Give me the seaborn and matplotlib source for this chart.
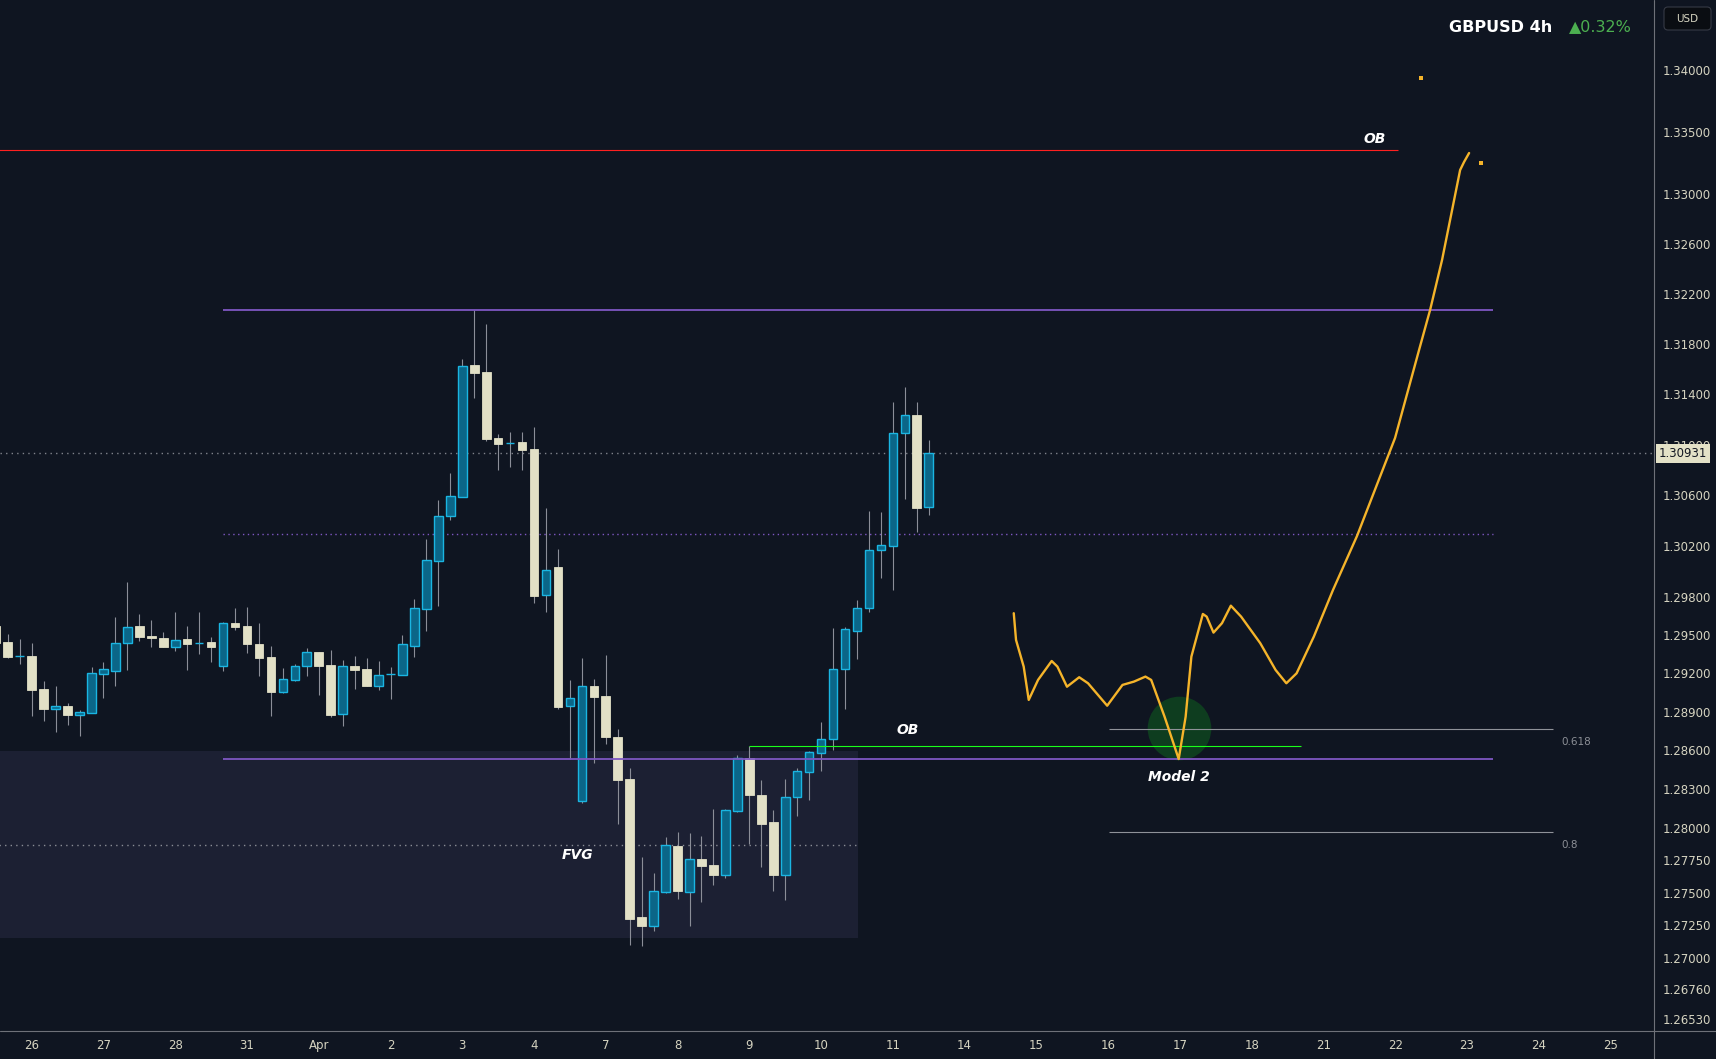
import numpy as np
import pandas as pd
import matplotlib
matplotlib.use("Agg")
import matplotlib.pyplot as plt
from matplotlib.ticker import FixedLocator, NullLocator, FuncFormatter
from matplotlib.patches import FancyBboxPatch
from matplotlib.lines import Line2D
from matplotlib.transforms import IdentityTransform
import seaborn as sns

# GBPUSD 4h candles (bar -3 is the one cut off at the left edge)
opens = [1.29571, 1.29446, 1.29334, 1.29336, 1.29079, 1.28925, 1.28946, 1.28878, 1.28894, 1.29198,
         1.29219, 1.29438, 1.29571, 1.29493, 1.29477, 1.29407, 1.29469, 1.29436, 1.29446, 1.29258,
         1.29595, 1.29571, 1.29430, 1.29329, 1.29055, 1.29149, 1.29258, 1.29368, 1.29266, 1.28883,
         1.29258, 1.29235, 1.29102, 1.29194, 1.29188, 1.29415, 1.29704, 1.30081, 1.30436, 1.30585,
         1.31632, 1.31576, 1.31052, 1.31011, 1.31021, 1.30965, 1.29814, 1.30034, 1.28946, 1.28207,
         1.29102, 1.29024, 1.28704, 1.28378, 1.27312, 1.27242, 1.27504, 1.27859, 1.27504, 1.27759,
         1.27713, 1.27636, 1.28130, 1.28541, 1.28254, 1.28045, 1.27636, 1.28238, 1.28432, 1.28580,
         1.28689, 1.29235, 1.29532, 1.29712, 1.30168, 1.30199, 1.31092, 1.31234, 1.30506]
highs = [1.29618, 1.29509, 1.29469, 1.29438, 1.29141, 1.29102, 1.28969, 1.28915, 1.29250, 1.29290,
         1.29642, 1.29916, 1.29665, 1.29618, 1.29524, 1.29681, 1.29571, 1.29681, 1.29485, 1.29600,
         1.29712, 1.29720, 1.29595, 1.29415, 1.29243, 1.29274, 1.29399, 1.29370, 1.29383, 1.29305,
         1.29336, 1.29321, 1.29297, 1.29250, 1.29501, 1.29783, 1.30254, 1.30562, 1.30775, 1.31680,
         1.32070, 1.31958, 1.31084, 1.31100, 1.31100, 1.31140, 1.30499, 1.30176, 1.29149, 1.29321,
         1.29157, 1.29344, 1.28767, 1.28463, 1.27774, 1.27651, 1.27929, 1.27968, 1.27960, 1.27937,
         1.28145, 1.28145, 1.28564, 1.28634, 1.28370, 1.28138, 1.28378, 1.28463, 1.28595, 1.28821,
         1.29555, 1.29563, 1.29775, 1.30475, 1.30467, 1.31338, 1.31457, 1.31338, 1.31036]
lows = [1.29399, 1.29320, 1.29274, 1.28868, 1.28829, 1.28743, 1.28798, 1.28712, 1.28891, 1.29008,
        1.29102, 1.29227, 1.29454, 1.29407, 1.29405, 1.29375, 1.29227, 1.29352, 1.29290, 1.29219,
        1.29540, 1.29360, 1.29180, 1.28868, 1.29050, 1.29141, 1.29180, 1.29032, 1.28860, 1.28790,
        1.29079, 1.29100, 1.29071, 1.29000, 1.29186, 1.29329, 1.29532, 1.29728, 1.30404, 1.30583,
        1.31369, 1.31029, 1.30799, 1.30823, 1.30799, 1.29751, 1.29680, 1.28922, 1.28533, 1.28192,
        1.28502, 1.28650, 1.28029, 1.27096, 1.27088, 1.27204, 1.27500, 1.27450, 1.27242, 1.27427,
        1.27558, 1.27612, 1.28122, 1.27875, 1.27697, 1.27512, 1.27443, 1.28091, 1.28215, 1.28440,
        1.28603, 1.28922, 1.29313, 1.29680, 1.29948, 1.29853, 1.30570, 1.30310, 1.30443]
closes = [1.29438, 1.29329, 1.29338, 1.29071, 1.28922, 1.28946, 1.28876, 1.28899, 1.29204, 1.29235,
          1.29438, 1.29563, 1.29485, 1.29477, 1.29407, 1.29461, 1.29430, 1.29440, 1.29407, 1.29595,
          1.29563, 1.29430, 1.29321, 1.29055, 1.29157, 1.29258, 1.29368, 1.29258, 1.28876, 1.29258,
          1.29227, 1.29102, 1.29188, 1.29198, 1.29430, 1.29712, 1.30089, 1.30436, 1.30593, 1.31624,
          1.31568, 1.31044, 1.31005, 1.31015, 1.30957, 1.29806, 1.30010, 1.28938, 1.29008, 1.29102,
          1.29016, 1.28704, 1.28370, 1.27296, 1.27242, 1.27512, 1.27867, 1.27512, 1.27759, 1.27705,
          1.27636, 1.28138, 1.28541, 1.28254, 1.28029, 1.27636, 1.28238, 1.28440, 1.28588, 1.28689,
          1.29235, 1.29548, 1.29712, 1.30168, 1.30207, 1.31092, 1.31234, 1.30498, 1.30931]
first_bar = -3
bars_per_day = 6

day_labels = ["26", "27", "28", "31", "Apr", "2", "3", "4", "7", "8", "9", "10", "11",
              "14", "15", "16", "17", "18", "21", "22", "23", "24", "25"]
price_ticks = [1.34000, 1.33500, 1.33000, 1.32600, 1.32200, 1.31800, 1.31400, 1.31000,
               1.30600, 1.30200, 1.29800, 1.29500, 1.29200, 1.28900, 1.28600, 1.28300,
               1.28000, 1.27750, 1.27500, 1.27250, 1.27000, 1.26760, 1.26530]
last_price = 1.30931

# drawn levels (price, bar from, bar to)
range_high = (1.32070, 16.0, 122.2)
range_low = (1.28537, 16.0, 122.2)
range_mid = (1.30294, 16.0, 122.2)
ob_top = (1.33354, -3.0, 114.2)
ob_mid = (1.28632, 60.0, 106.1)
fvg_box = (1.27150, 1.28595, -3.0, 69.1)
fvg_mid = (1.27867, -3.0, 69.1)
fib_levels = [1.28764, 1.27965]
fib_names = ["0.618", "0.8"]
fib_span = (90.1, 127.2)

# hand drawn projection
path_bar = [82.11, 82.30, 82.94, 83.36, 84.14, 85.28, 85.76, 86.56, 87.58, 88.32, 89.92, 91.20,
            92.16, 93.12, 93.60, 94.72, 95.90, 96.48, 96.96, 97.92, 98.24, 98.81, 99.52, 100.26,
            101.12, 102.72, 104.00, 104.90, 105.76, 107.20, 108.80, 110.81, 113.99, 116.00,
            116.92, 117.92, 118.76, 119.43, 119.76, 120.18]
path_price = [1.29671, 1.29461, 1.29253, 1.28993, 1.29149, 1.29297, 1.29253, 1.29096, 1.29170,
              1.29123, 1.28948, 1.29110, 1.29136, 1.29175, 1.29149, 1.28862, 1.28533, 1.28862,
              1.29331, 1.29665, 1.29644, 1.29519, 1.29593, 1.29730, 1.29644, 1.29436, 1.29227,
              1.29123, 1.29201, 1.29488, 1.29853, 1.30278, 1.31052, 1.31752, 1.32070, 1.32470,
              1.32871, 1.33192, 1.33257, 1.33329]
dot_bar = [116.2, 121.2]
dot_price = [1.33935, 1.33249]

BG = "#0f1521"
UP_FILL, UP_EDGE = "#0b6688", "#1ab5e2"
DOWN = "#e2e0c6"
WICK = "#8b8e98"
PURPLE = "#7e57c2"
TXT = "#d6d4c1"

sns.set_theme(style="dark", rc={"axes.facecolor": BG, "figure.facecolor": BG})
plt.rcParams["font.family"] = ["DejaVu Sans"]

W, H = 1716, 1059
fig = plt.figure(figsize=(W / 100, H / 100), dpi=100)
ax = fig.add_axes([0, 28 / H, 1654 / W, 1031 / H])
ax.set_facecolor(BG)

df = pd.DataFrame({"o": opens, "h": highs, "l": lows, "c": closes})
df["bar"] = np.arange(len(df)) + first_bar
df["up"] = df["c"] >= df["o"]
df["lo"] = df[["o", "c"]].min(axis=1)
df["ht"] = (df["c"] - df["o"]).abs()

# FVG zone
ax.fill_between([fvg_box[2], fvg_box[3]], fvg_box[0], fvg_box[1], color="#1c2033", lw=0, zorder=1)
ax.hlines(fvg_mid[0], fvg_mid[1], fvg_mid[2], color="#8a8d95", lw=1.0, linestyles=(0, (1, 3)), zorder=2)

# candles
ax.vlines(df["bar"], df["l"], df["h"], color=WICK, lw=0.8, zorder=3)
u = df[df["up"]]
d = df[~df["up"]]
ax.bar(u["bar"], u["ht"], bottom=u["lo"], width=0.72, color=UP_FILL, edgecolor=UP_EDGE, linewidth=1.0, zorder=4)
ax.bar(d["bar"], d["ht"], bottom=d["lo"], width=0.72, color=DOWN, edgecolor=DOWN, linewidth=0.6, zorder=4)

# levels
ax.hlines(range_high[0], range_high[1], range_high[2], color=PURPLE, lw=1.3, zorder=5)
ax.hlines(range_low[0], range_low[1], range_low[2], color=PURPLE, lw=1.3, zorder=5)
ax.hlines(range_mid[0], range_mid[1], range_mid[2], color=PURPLE, lw=1.0, linestyles=(0, (1, 2.5)), zorder=2)
ax.hlines(ob_top[0], ob_top[1], ob_top[2], color="#ff2020", lw=0.8, zorder=5)
ax.hlines(ob_mid[0], ob_mid[1], ob_mid[2], color="#1aff1a", lw=0.8, zorder=5)
ax.axhline(last_price, color="#80838c", lw=1.0, ls=(0, (1, 3)), zorder=2)

# entry circle
ax.scatter([95.95], [1.28775], s=2100, color="#0e3d1f", lw=0, zorder=4)

for lvl, name in zip(fib_levels, fib_names):
    ax.hlines(lvl, fib_span[0], fib_span[1], color="#8f9299", lw=0.8, zorder=5)
    ax.text(127.9, lvl * 0.99925, name, color="#8c8f96", fontsize=7.5, ha="left", va="center", zorder=6)

sns.lineplot(x=path_bar, y=path_price, sort=False, estimator=None, color="#f5b42a", lw=1.7,
             solid_joinstyle="round", solid_capstyle="round", ax=ax, zorder=6)
sns.scatterplot(x=dot_bar, y=dot_price, color="#f5b42a", s=5, marker="s", lw=0, ax=ax, zorder=6)

lab = dict(color="white", fontsize=10, fontweight="bold", fontstyle="italic", ha="center", va="center", zorder=7)
ax.text(112.3, 1.33442, "OB", **lab)
ax.text(73.2, 1.28759, "OB", **lab)
ax.text(45.6, 1.27790, "FVG", **lab)
ax.text(95.9, 1.28394, "Model 2", **lab)

# axes
ax.set_yscale("log")
ax.set_xlim(-2.651, 135.64)
ax.set_ylim(1.26437, 1.34568)
ax.yaxis.set_major_locator(FixedLocator(price_ticks))
ax.yaxis.set_minor_locator(NullLocator())
ax.yaxis.set_major_formatter(FuncFormatter(lambda v, p: f"{v:.5f}"))
ax.yaxis.tick_right()
ax.set_xticks(np.arange(len(day_labels)) * bars_per_day)
ax.set_xticklabels(day_labels)
ax.tick_params(axis="y", length=0, pad=6, labelsize=8.5, labelcolor=TXT)
ax.tick_params(axis="x", length=0, pad=6, labelsize=8.5, labelcolor=TXT)
ax.grid(False)
for s in ax.spines.values():
    s.set_visible(False)
ax.set_xlabel("")
ax.set_ylabel("")

ax.text(1659 / 1654, last_price, f"{last_price:.5f}", transform=ax.get_yaxis_transform(),
        ha="left", va="center", fontsize=8.5, color="#131722", clip_on=False, zorder=10,
        bbox=dict(facecolor="#e3e1c7", edgecolor="none", boxstyle="square,pad=0.25"))

# panel separators
fig.add_artist(Line2D([1654 / W, 1654 / W], [0, 1], color="#6e7179", lw=0.8))
fig.add_artist(Line2D([0, 1], [28 / H, 28 / H], color="#6e7179", lw=0.8))

# header
fig.text(1552 / W, 1 - 27 / H, "GBPUSD 4h", color="white", fontsize=11.5, fontweight="semibold",
         ha="right", va="center")
fig.text(1569 / W, 1 - 27 / H, "\u25b20.32%", color="#4caf50", fontsize=11.5, ha="left", va="center")
fig.add_artist(FancyBboxPatch((1664, H - 30), 47, 23, boxstyle="round,pad=0,rounding_size=4",
                              transform=IdentityTransform(), facecolor="#0a0d12", edgecolor="#363a45", lw=0.8))
fig.text(1687.5 / W, 1 - 18.5 / H, "USD", color=TXT, fontsize=7.5, ha="center", va="center")

fig.savefig("out.png", dpi=100, facecolor=BG)
